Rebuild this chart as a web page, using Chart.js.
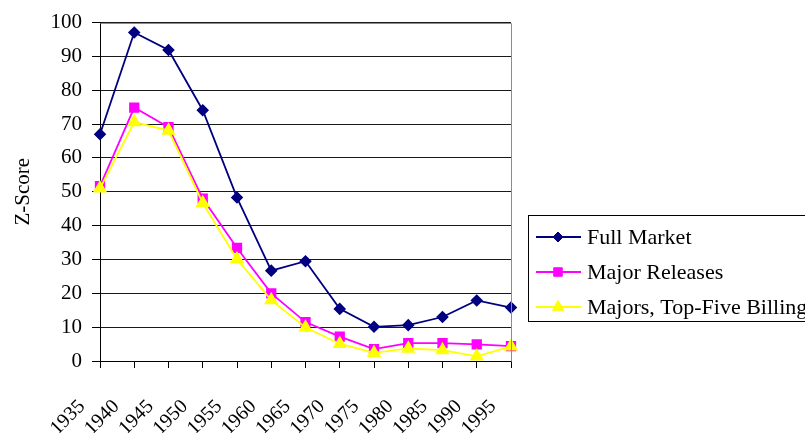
<!DOCTYPE html>
<html>
<head>
<meta charset="utf-8">
<script src="https://cdn.jsdelivr.net/npm/chart.js@4/dist/chart.umd.min.js"></script>
<style>
  html, body { margin: 0; padding: 0; background: #fff; }
  #wrap { width: 805px; height: 433px; position: relative; }
</style>
</head>
<body>
<div id="wrap"><canvas id="c" width="805" height="433"></canvas></div>
<script>
// Release years (x-axis categories)
const years = ['1935','1940','1945','1950','1955','1960','1965','1970','1975','1980','1985','1990','1995'];

// Z-scores per series
const fullMarket    = [67.0, 97.1, 91.9, 74.1, 48.3, 26.7, 29.5, 15.4, 10.1, 10.6, 13.0, 17.9, 15.8];
const majorReleases = [51.7, 74.9, 69.1, 48.0, 33.4, 20.0, 11.5, 7.2, 3.5, 5.3, 5.3, 4.9, 4.4];
const majorsTopFive = [51.0, 70.6, 68.1, 46.7, 30.1, 18.0, 9.9, 5.1, 2.4, 3.7, 3.2, 1.4, 4.3];

const seriesNames = ['Full Market', 'Major Releases', 'Majors, Top-Five Billing'];
const yAxisTitle = 'Z-Score';

const FONT = '"Liberation Serif", "Times New Roman", serif';

// Grey frame on the top and right edges of the plot area
const plotFrame = {
  id: 'plotFrame',
  afterDatasetsDraw(chart) {
    const { ctx, chartArea: a } = chart;
    ctx.save();
    ctx.strokeStyle = '#8c8c8c';
    ctx.lineWidth = 1;
    ctx.beginPath();
    ctx.moveTo(Math.round(a.left) + 0.5, Math.round(a.top) + 0.5);
    ctx.lineTo(Math.round(a.right) + 0.5, Math.round(a.top) + 0.5);
    ctx.lineTo(Math.round(a.right) + 0.5, Math.round(a.bottom) + 0.5);
    ctx.stroke();
    ctx.restore();
  }
};

// Boxed legend to the right of the plot
const boxedLegend = {
  id: 'boxedLegend',
  afterDraw(chart) {
    const { ctx } = chart;
    const boxX = 528.5, boxY = 215.5, boxW = 300, boxH = 106;
    ctx.save();
    ctx.strokeStyle = '#000';
    ctx.lineWidth = 1;
    ctx.strokeRect(boxX, boxY, boxW, boxH);
    const rowY = [237, 272, 307];
    chart.data.datasets.forEach((ds, i) => {
      const y = rowY[i];
      ctx.strokeStyle = ds.borderColor;
      ctx.lineWidth = ds.borderWidth;
      ctx.beginPath();
      ctx.moveTo(536, y);
      ctx.lineTo(581, y);
      ctx.stroke();
      ctx.fillStyle = ds.pointBackgroundColor;
      ctx.strokeStyle = ds.pointBorderColor;
      ctx.lineWidth = 1;
      Chart.helpers.drawPoint(ctx, {
        pointStyle: ds.pointStyle,
        radius: ds.pointRadius,
        rotation: 0,
        borderWidth: 1
      }, 558, y);
      ctx.fillStyle = '#000';
      ctx.font = '22px ' + FONT;
      ctx.textAlign = 'left';
      ctx.textBaseline = 'middle';
      ctx.fillText(ds.label, 587, y + 1);
    });
    ctx.restore();
  }
};

new Chart(document.getElementById('c'), {
  type: 'line',
  data: {
    labels: years,
    datasets: [
      {
        label: seriesNames[0],
        data: fullMarket,
        borderColor: '#000080',
        backgroundColor: '#000080',
        pointBackgroundColor: '#000080',
        pointBorderColor: '#000080',
        pointStyle: 'rectRot',
        pointRadius: 5,
        borderWidth: 1.8,
        order: 2
      },
      {
        label: seriesNames[1],
        data: majorReleases,
        borderColor: '#ff00ff',
        backgroundColor: '#ff00ff',
        pointBackgroundColor: '#ff00ff',
        pointBorderColor: '#ff00ff',
        pointStyle: 'rect',
        pointRadius: 6,
        borderWidth: 1.8,
        order: 1
      },
      {
        label: seriesNames[2],
        data: majorsTopFive,
        borderColor: '#ffff00',
        backgroundColor: '#ffff00',
        pointBackgroundColor: '#ffff00',
        pointBorderColor: '#ffff00',
        pointStyle: 'triangle',
        pointRadius: 6.5,
        borderWidth: 1.8,
        order: 0
      }
    ]
  },
  options: {
    responsive: false,
    animation: false,
    layout: { padding: { left: 0, top: 16, right: 294, bottom: 0 } },
    plugins: {
      legend: { display: false },
      tooltip: { enabled: false }
    },
    elements: { line: { tension: 0 } },
    scales: {
      x: {
        type: 'category',
        offset: false,
        border: { display: true, color: '#000', width: 1 },
        grid: {
          drawOnChartArea: false,
          drawTicks: true,
          tickLength: 7,
          tickColor: '#000'
        },
        ticks: {
          autoSkip: false,
          maxRotation: 45,
          minRotation: 45,
          padding: 27,
          labelOffset: -18,
          color: '#000',
          font: { family: FONT, size: 20 }
        },
        afterFit(s) { s.height = 72; }
      },
      y: {
        min: 0,
        max: 100,
        border: { display: true, color: '#000', width: 1 },
        grid: {
          color: '#1a1a1a',
          lineWidth: 1,
          drawTicks: true,
          tickLength: 8,
          tickColor: '#000'
        },
        ticks: {
          stepSize: 10,
          padding: 10,
          color: '#000',
          font: { family: FONT, size: 21 }
        },
        title: {
          display: true,
          text: yAxisTitle,
          color: '#000',
          padding: { top: 11, bottom: 0 },
          font: { family: FONT, size: 21 }
        },
        afterFit(s) { s.width = 100; }
      }
    }
  },
  plugins: [plotFrame, boxedLegend]
});
</script>
</body>
</html>
